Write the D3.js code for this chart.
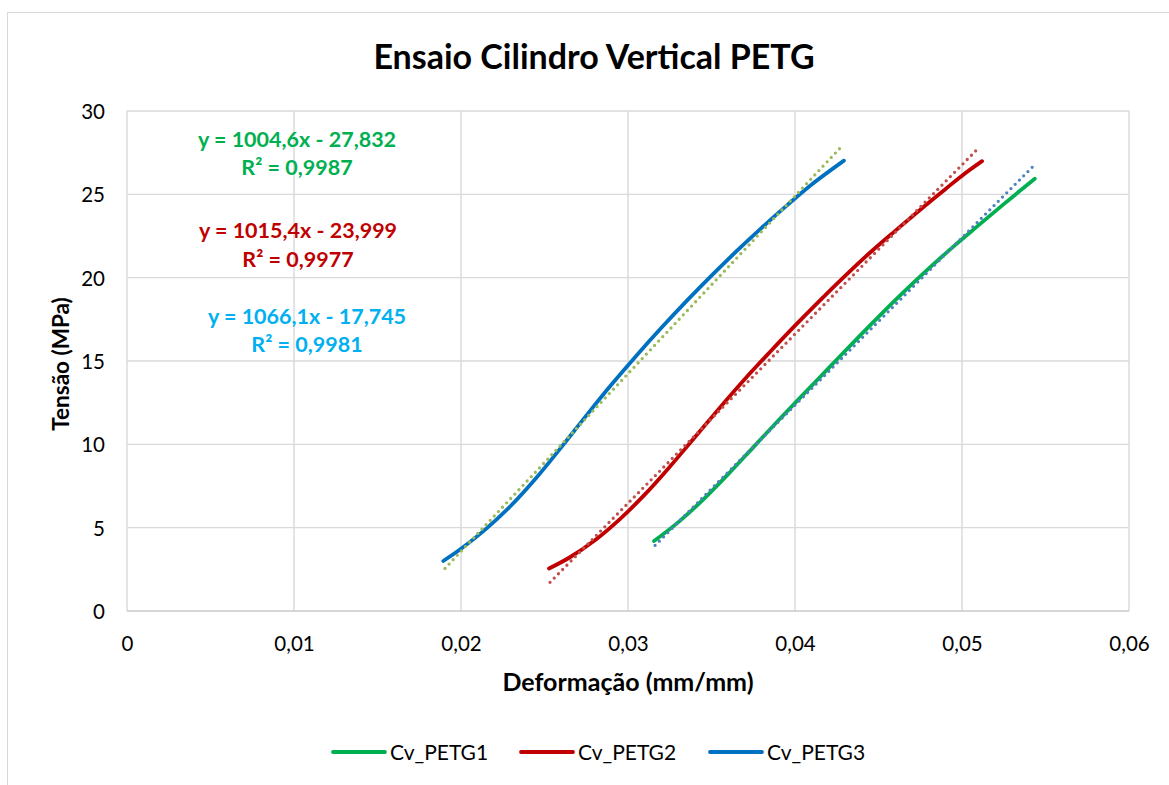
<!DOCTYPE html>
<html><head><meta charset="utf-8">
<script src="https://cdn.jsdelivr.net/npm/d3@7"></script>
<style>body{margin:0;background:#fff;} svg{display:block;}</style>
</head><body><svg id="chart" width="1169" height="785"></svg>
<script>
// ---- data ----
const seriesNames = ["Cv_PETG1", "Cv_PETG2", "Cv_PETG3"];
const petg1 = [[0.03156,4.20],[0.0330,5.32],[0.0345,6.68],[0.0360,8.21],[0.0375,9.82],[0.0390,11.43],[0.0405,13.0],[0.0420,14.56],[0.0435,16.12],[0.0450,17.65],[0.0465,19.13],[0.0480,20.54],[0.0495,21.88],[0.0510,23.15],[0.0525,24.41],[0.05436,25.94]];
const petg2 = [[0.02527,2.55],[0.0265,3.21],[0.0280,4.23],[0.0295,5.50],[0.0310,6.98],[0.0325,8.65],[0.0340,10.42],[0.0355,12.2],[0.0370,13.92],[0.0385,15.54],[0.0400,17.12],[0.0415,18.64],[0.0430,20.11],[0.0445,21.51],[0.0460,22.81],[0.0475,24.08],[0.0490,25.31],[0.0500,26.12],[0.0512,26.99]];
const petg3 = [[0.01894,3.0],[0.0200,3.73],[0.0215,4.93],[0.0230,6.33],[0.0245,7.98],[0.0260,9.82],[0.0275,11.72],[0.0290,13.57],[0.0305,15.32],[0.0320,16.99],[0.0335,18.59],[0.0350,20.12],[0.0365,21.59],[0.0380,22.99],[0.0395,24.32],[0.0410,25.59],[0.04293,27.02]];
const trendSlopes = [1004.6, 1015.4, 1066.1];
const trendIntercepts = [-27.832, -23.999, -17.745];
const trendR2 = ["0,9987", "0,9977", "0,9981"];
const trendXStart = [0.03162, 0.02533, 0.01904];
const trendXEnd = [0.05433, 0.05104, 0.04279];
const xTicks = [0, 0.01, 0.02, 0.03, 0.04, 0.05, 0.06];
const yTicks = [0, 5, 10, 15, 20, 25, 30];
const titleText = "Ensaio Cilindro Vertical PETG";
const xTitle = "Deformação (mm/mm)";
const yTitle = "Tensão (MPa)";

// ---- styles ----
const lineColors = ["#00B050", "#C00000", "#0070C0"];
const trendColors = ["#4F81BD", "#C0504D", "#9BBB59"];
const eqColors = ["#00B050", "#C00000", "#00B0F0"];
const FONT = "Lato, 'Open Sans', sans-serif";

const svg = d3.select("#chart");
const W = 1169, H = 785;
svg.append("rect").attr("x",0).attr("y",0).attr("width",W).attr("height",H).attr("fill","#fff");
svg.append("rect").attr("x",7.5).attr("y",12.5).attr("width",1175).attr("height",790)
  .attr("fill","none").attr("stroke","#D9D9D9").attr("stroke-width",1);

const x = d3.scaleLinear().domain([0, 0.06]).range([127, 1129]);
const y = d3.scaleLinear().domain([0, 30]).range([611, 111]);
const loc = d3.formatLocale({decimal: ",", thousands: ".", grouping: [3], currency: ["", ""]});
const fmtX = v => v === 0 ? "0" : loc.format(".2f")(v);

// gridlines
const g = svg.append("g");
g.selectAll(".vg").data(xTicks).join("line")
  .attr("x1", d => x(d)).attr("x2", d => x(d)).attr("y1", y(30)).attr("y2", y(0))
  .attr("stroke", "#D9D9D9").attr("stroke-width", 1.4);
g.selectAll(".hg").data(yTicks).join("line")
  .attr("x1", x(0)).attr("x2", x(0.06)).attr("y1", d => y(d)).attr("y2", d => y(d))
  .attr("stroke", d => d === 0 ? "#C8C8C8" : "#D9D9D9").attr("stroke-width", 1.4);

// axes via d3 axis (labels only)
const xAxis = svg.append("g").attr("transform", `translate(0,${y(0)})`)
  .call(d3.axisBottom(x).tickValues(xTicks).tickFormat(fmtX).tickSize(0));
xAxis.select(".domain").remove();
xAxis.selectAll("text").attr("y", 40).attr("dy", 0)
  .attr("font-family", FONT).attr("font-size", 20.5).attr("fill", "#000");
const yAxis = svg.append("g").attr("transform", `translate(${x(0)},0)`)
  .call(d3.axisLeft(y).tickValues(yTicks).tickFormat(d3.format("d")).tickSize(0).tickPadding(22));
yAxis.select(".domain").remove();
yAxis.selectAll("text").attr("dy", 7.5)
  .attr("font-family", FONT).attr("font-size", 20.5).attr("fill", "#000");

// titles
svg.append("text").attr("x", 594).attr("y", 69).attr("text-anchor", "middle")
  .attr("font-family", FONT).attr("font-weight", "bold").attr("font-size", 34).attr("fill", "#000")
  .text(titleText);
svg.append("text").attr("x", 628).attr("y", 691).attr("text-anchor", "middle")
  .attr("font-family", FONT).attr("font-weight", "bold").attr("font-size", 25).attr("fill", "#000")
  .text(xTitle);
svg.append("text").attr("transform", "translate(69,364) rotate(-90)").attr("text-anchor", "middle")
  .attr("font-family", FONT).attr("font-weight", "bold").attr("font-size", 22.5).attr("fill", "#000")
  .text(yTitle);

// series lines
const lineGen = d3.line().x(d => x(d[0])).y(d => y(d[1])).curve(d3.curveCatmullRom.alpha(0.5));
[petg1, petg2, petg3].forEach((s, i) => {
  svg.append("path").datum(s).attr("d", lineGen).attr("fill", "none")
    .attr("stroke", lineColors[i]).attr("stroke-width", 3.8)
    .attr("stroke-linecap", "round").attr("stroke-linejoin", "round");
});

// trendlines (linear, from the displayed equations)
const trendLine = d3.line().x(d => x(d[0])).y(d => y(d[1]));
seriesNames.forEach((n, i) => {
  const pts = [trendXStart[i], trendXEnd[i]].map(v => [v, trendSlopes[i] * v + trendIntercepts[i]]);
  svg.append("path").datum(pts).attr("d", trendLine).attr("fill", "none")
    .attr("stroke", trendColors[i]).attr("stroke-width", 3.3)
    .attr("stroke-linecap", "round").attr("stroke-dasharray", "0 6");
});

// equation labels
const eqPos = [[297, 147, 175], [298, 238, 267], [307, 324, 352]];
const fmtCoef = v => loc.format(".1f")(v);
const fmtInt = v => loc.format(".3f")(Math.abs(v));
seriesNames.forEach((n, i) => {
  const eq = `y = ${fmtCoef(trendSlopes[i])}x - ${fmtInt(trendIntercepts[i])}`;
  svg.append("text").attr("x", eqPos[i][0]).attr("y", eqPos[i][1]).attr("text-anchor", "middle")
    .attr("font-family", FONT).attr("font-weight", "bold").attr("font-size", 21.5).attr("fill", eqColors[i])
    .text(eq);
  svg.append("text").attr("x", eqPos[i][0]).attr("y", eqPos[i][2]).attr("text-anchor", "middle")
    .attr("font-family", FONT).attr("font-weight", "bold").attr("font-size", 21.5).attr("fill", eqColors[i])
    .text(`R² = ${trendR2[i]}`);
});

// legend
const legX = [333, 521, 710];
const leg = svg.append("g");
seriesNames.forEach((n, i) => {
  leg.append("line").attr("x1", legX[i]).attr("x2", legX[i] + 52).attr("y1", 752).attr("y2", 752)
    .attr("stroke", lineColors[i]).attr("stroke-width", 3.8).attr("stroke-linecap", "round");
  leg.append("text").attr("x", legX[i] + 57).attr("y", 752).attr("dy", "0.36em")
    .attr("font-family", FONT).attr("font-size", 21).attr("fill", "#000").text(n);
});
</script></body></html>
